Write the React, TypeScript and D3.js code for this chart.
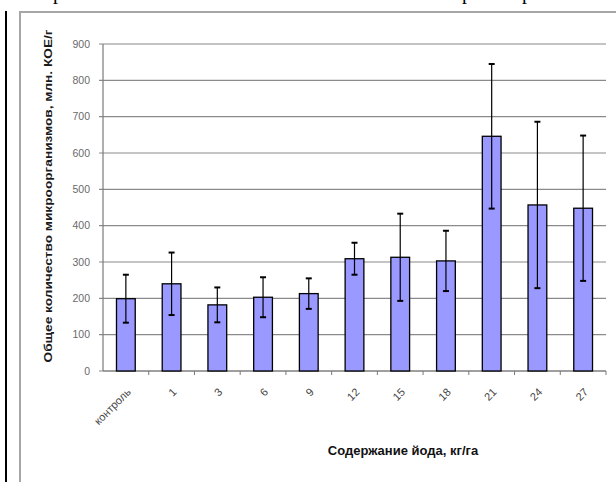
import React from "react";
import * as d3 from "d3";

// values
const doses = ["контроль", "1", "3", "6", "9", "12", "15", "18", "21", "24", "27"];
const means = [199, 240, 182, 203, 213, 309, 313, 303, 646, 457, 448];
const errs = [66, 86, 48, 55, 42, 44, 120, 83, 199, 229, 200];
const yTicks = [0, 100, 200, 300, 400, 500, 600, 700, 800, 900];

const W = 616;
const H = 482;
const left = 103;
const right = 606;
const top = 44;
const bottom = 371;

export default function App() {
  const x = d3.scaleBand().domain(doses).range([left, right]).paddingInner(0.59).paddingOuter(0.295);
  const xb = d3.scaleBand().domain(doses).range([left, right]);
  const y = d3.scaleLinear().domain([0, 900]).range([bottom, top]);
  const cap = 3;

  return (
    <svg width={W} height={H} style={{ position: "absolute", left: 0, top: 0 }} fontFamily="Arial, 'Liberation Sans', sans-serif">
      <rect x={0} y={0} width={W} height={H} fill="#fff" />
      {/* cut-off line of page text above the picture */}
      <g fontFamily="'Liberation Serif', 'Times New Roman', serif" fontSize={20} fill="#000">
        <text x={53} y={-1}>р</text>
        <text x={462} y={-1}>р</text>
        <text x={522} y={-1}>р</text>
      </g>
      <rect x={5} y={11} width={2} height={H - 11} fill="#000" />
      <rect x={20} y={12} width={800} height={600} fill="none" stroke="#a6a6a6" strokeWidth={2} />

      {/* gridlines */}
      {yTicks.map((t) => (
        <g key={t}>
          <line x1={left - 4} x2={right} y1={y(t)} y2={y(t)} stroke="#8a8a8a" strokeWidth={1.2} />
          <text x={90} y={y(t)} dy="0.35em" textAnchor="end" fontSize={10.5} fill="#6a6a6a">{t}</text>
        </g>
      ))}
      <line x1={left} x2={left} y1={top} y2={bottom} stroke="#7a7a7a" strokeWidth={1.2} />
      <line x1={left} x2={right} y1={bottom} y2={bottom} stroke="#7a7a7a" strokeWidth={1.2} />
      {doses.map((d) => (
        <line key={d} x1={(xb(d) as number) + xb.bandwidth()} x2={(xb(d) as number) + xb.bandwidth()} y1={bottom} y2={bottom + 4} stroke="#7a7a7a" />
      ))}

      {/* bars */}
      {doses.map((d, i) => (
        <rect key={d} x={x(d)} y={y(means[i])} width={x.bandwidth()} height={bottom - y(means[i])} fill="#9999ff" stroke="#000" strokeWidth={1.3} />
      ))}
      {/* error bars */}
      {doses.map((d, i) => {
        const cx = (x(d) as number) + x.bandwidth() / 2;
        const hi = y(means[i] + errs[i]);
        const lo = y(means[i] - errs[i]);
        return (
          <g key={d} stroke="#000" strokeWidth={1.2}>
            <line x1={cx} x2={cx} y1={hi} y2={lo} />
            <line x1={cx - cap} x2={cx + cap} y1={hi} y2={hi} strokeWidth={2} />
            <line x1={cx - cap} x2={cx + cap} y1={lo} y2={lo} strokeWidth={2} />
          </g>
        );
      })}

      {/* x tick labels */}
      {doses.map((d) => {
        const cx = (xb(d) as number) + xb.bandwidth() / 2;
        return (
          <text key={d} transform={`translate(${cx + 3},${390}) rotate(-45)`} dy="0.35em" textAnchor="end" fontSize={11} fill="#444">
            {d}
          </text>
        );
      })}

      <text x={403} y={455} textAnchor="middle" fontSize={13} fontWeight="bold" fill="#111">Содержание йода, кг/га</text>
      <text transform={`translate(52,196) rotate(-90)`} textAnchor="middle" fontSize={10.5} fontWeight="bold" fill="#1a1a1a" textLength={333} lengthAdjust="spacingAndGlyphs">
        Общее количество микроорганизмов, млн. КОЕ/г
      </text>
    </svg>
  );
}
